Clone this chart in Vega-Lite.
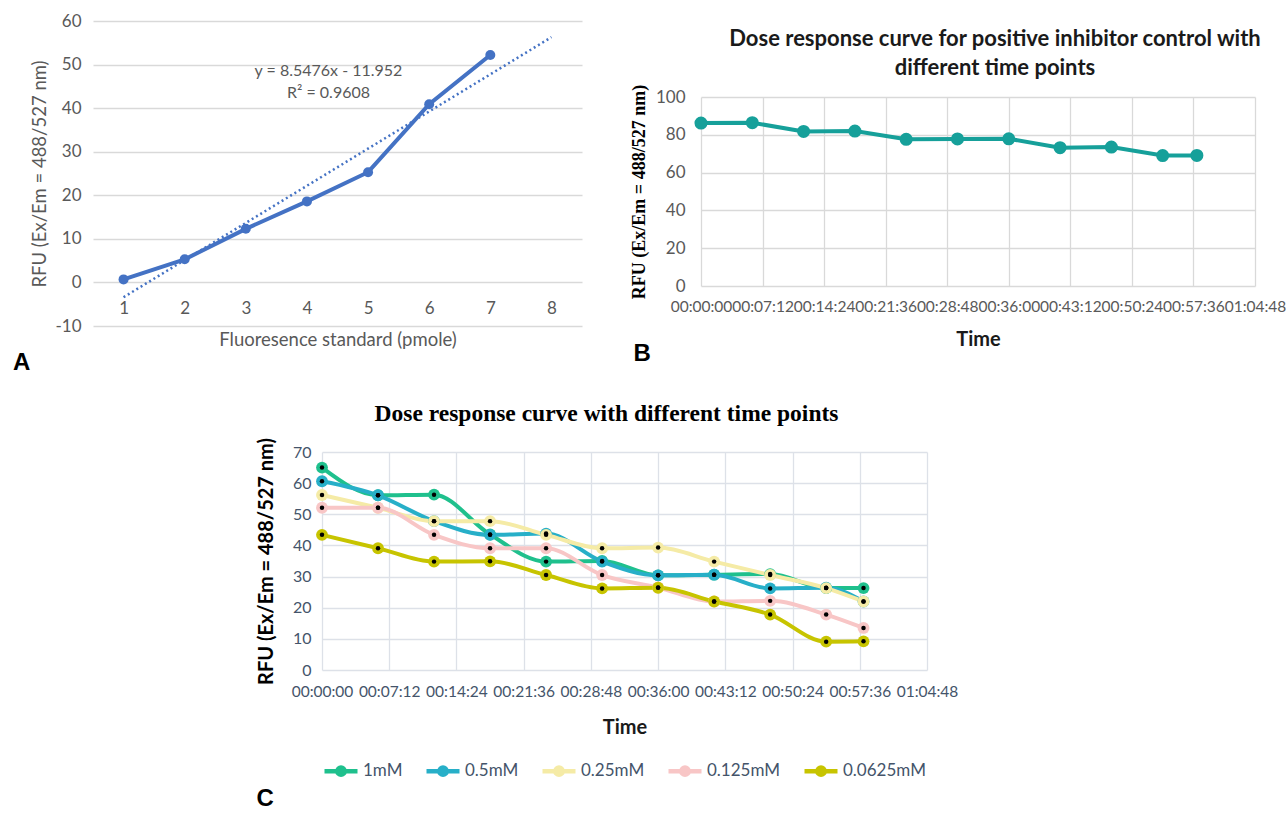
{
  "$schema": "https://vega.github.io/schema/vega-lite/v6.json",
  "padding": {"left": 12, "top": 12, "right": 0, "bottom": 0},
  "background": "white",
  "config": {
    "view": {"stroke": null},
    "font": "Lato",
    "axis": {"labelFont": "Lato", "titleFont": "Lato"}
  },
  "resolve": {"scale": {"color": "independent"}, "legend": {"color": "independent"}},
  "spacing": 27,
  "vconcat": [
    {
      "spacing": 48,
      "hconcat": [
        {
          "title": {"text": "A", "orient": "bottom", "anchor": "start", "font": "Liberation Sans", "fontSize": 24, "fontWeight": "bold", "color": "#000000", "dx": -18, "offset": 2},
          "vconcat": [
            {
              "width": 489,
              "height": 305,
              "title": {"text": ["y = 8.5476x - 11.952", "R² = 0.9608"], "orient": "top", "anchor": "middle", "frame": "group", "font": "Lato", "fontSize": 16, "fontWeight": "normal", "color": "#595959", "lineHeight": 22, "offset": -89, "dx": -9},
              "data": {"values": [
                {"pmole": 1, "rfu": 0.7},
                {"pmole": 2, "rfu": 5.3},
                {"pmole": 3, "rfu": 12.3},
                {"pmole": 4, "rfu": 18.6},
                {"pmole": 5, "rfu": 25.3},
                {"pmole": 6, "rfu": 40.9},
                {"pmole": 7, "rfu": 52.2}
              ]},
              "encoding": {
                "x": {"field": "pmole", "type": "quantitative",
                  "scale": {"domain": [0.5, 8.5], "nice": false, "zero": false},
                  "axis": {"values": [1, 2, 3, 4, 5, 6, 7, 8], "grid": false, "domain": false, "ticks": false, "tickSize": 0, "offset": -26, "labelPadding": 0, "labelFlush": false, "labelOverlap": false, "labelFontSize": 17, "labelColor": "#595959", "title": "Fluoresence standard (pmole)", "titleFontSize": 18.5, "titleFontWeight": "normal", "titleColor": "#595959", "titlePadding": 14}},
                "y": {"field": "rfu", "type": "quantitative",
                  "scale": {"domain": [-10, 60], "nice": false, "zero": false},
                  "axis": {"values": [-10, 0, 10, 20, 30, 40, 50, 60], "labelExpr": "'' + datum.value", "grid": true, "gridColor": "#D9D9D9", "gridWidth": 1.3, "domain": false, "ticks": false, "labelPadding": 12, "labelFontSize": 17, "labelColor": "#595959", "title": "RFU (Ex/Em = 488/527 nm)", "titleFontSize": 18.5, "titleFontWeight": "normal", "titleColor": "#595959", "titlePadding": 5}}
              },
              "layer": [
                {"transform": [{"regression": "rfu", "on": "pmole", "extent": [1, 8]}],
                 "mark": {"type": "line", "color": "#4472C4", "strokeWidth": 2.5, "strokeDash": [2, 3]}},
                {"mark": {"type": "line", "color": "#4472C4", "strokeWidth": 4}},
                {"mark": {"type": "point", "filled": true, "color": "#4472C4", "size": 100, "opacity": 1}}
              ]
            }
          ]
        },
        {
          "title": {"text": "B", "orient": "bottom", "anchor": "start", "font": "Liberation Sans", "fontSize": 24, "fontWeight": "bold", "color": "#000000", "dx": 3, "offset": -8},
          "spacing": 0,
          "vconcat": [
            {"width": 1, "height": 7, "data": {"values": []}, "mark": {"type": "point", "opacity": 0}},
            {
              "width": 554,
              "height": 189,
              "title": {"text": ["Dose response curve for positive inhibitor control with", "different time points"], "font": "Lato", "fontSize": 22, "fontWeight": "bold", "color": "#1a1a1a", "lineHeight": 29, "frame": "group", "dx": 17, "offset": 4},
              "data": {"values": [
                {"t": 0, "rfu": 86.2},
                {"t": 360, "rfu": 86.4},
                {"t": 720, "rfu": 81.8},
                {"t": 1080, "rfu": 82.0},
                {"t": 1440, "rfu": 77.6},
                {"t": 1800, "rfu": 77.8},
                {"t": 2160, "rfu": 77.9},
                {"t": 2520, "rfu": 73.2},
                {"t": 2880, "rfu": 73.5},
                {"t": 3240, "rfu": 69.0},
                {"t": 3480, "rfu": 69.1}
              ]},
              "encoding": {
                "x": {"field": "t", "type": "quantitative",
                  "scale": {"domain": [0, 3888], "nice": false, "zero": false},
                  "axis": {"values": [0, 432, 864, 1296, 1728, 2160, 2592, 3024, 3456, 3888], "labelExpr": "utcFormat(datum.value*1000, '%H:%M:%S')", "labelOverlap": false, "labelBound": false, "labelFlush": false, "grid": true, "gridColor": "#D9D9D9", "gridWidth": 1.3, "domain": false, "ticks": false, "labelPadding": 13, "labelFontSize": 15.5, "labelColor": "#595959", "title": "Time", "titleFontSize": 20, "titleFontWeight": "bold", "titleColor": "#1a1a1a", "titlePadding": 15}},
                "y": {"field": "rfu", "type": "quantitative",
                  "scale": {"domain": [0, 100], "nice": false},
                  "axis": {"values": [0, 20, 40, 60, 80, 100], "grid": true, "gridColor": "#D9D9D9", "gridWidth": 1.3, "domain": false, "ticks": false, "labelPadding": 16, "labelFontSize": 17, "labelColor": "#595959", "title": "RFU (Ex/Em = 488/527 nm)", "titleFont": "Liberation Serif", "titleFontSize": 18, "titleFontWeight": "bold", "titleColor": "#000000", "titlePadding": 7}}
              },
              "layer": [
                {"mark": {"type": "line", "color": "#16A09A", "strokeWidth": 4}},
                {"mark": {"type": "point", "filled": true, "color": "#16A09A", "size": 170, "opacity": 1}}
              ]
            }
          ]
        }
      ]
    },
    {
      "spacing": 0,
      "resolve": {"scale": {"color": "independent"}, "legend": {"color": "independent"}},
      "hconcat": [
        {"width": 163, "height": 1, "data": {"values": []}, "mark": {"type": "point", "opacity": 0}},
        {
          "title": {"text": "C", "orient": "bottom", "anchor": "start", "font": "Liberation Sans", "fontSize": 24, "fontWeight": "bold", "color": "#000000", "offset": 3},
          "resolve": {"scale": {"color": "independent"}, "legend": {"color": "independent"}},
          "vconcat": [
            {
              "width": 605,
              "height": 218,
              "title": {"text": "Dose response curve with different time points", "font": "Liberation Serif", "fontSize": 23.5, "fontWeight": "bold", "color": "#000000", "frame": "group", "dx": -18, "offset": 12},
              "data": {"values": [
                {"t": 0, "conc": "1mM", "rfu": 65.0},
                {"t": 360, "conc": "1mM", "rfu": 56.1},
                {"t": 720, "conc": "1mM", "rfu": 56.3},
                {"t": 1080, "conc": "1mM", "rfu": 43.5},
                {"t": 1440, "conc": "1mM", "rfu": 34.8},
                {"t": 1800, "conc": "1mM", "rfu": 35.0},
                {"t": 2160, "conc": "1mM", "rfu": 30.4},
                {"t": 2520, "conc": "1mM", "rfu": 30.6},
                {"t": 2880, "conc": "1mM", "rfu": 30.8},
                {"t": 3240, "conc": "1mM", "rfu": 26.3},
                {"t": 3480, "conc": "1mM", "rfu": 26.3},
                {"t": 0, "conc": "0.5mM", "rfu": 60.6},
                {"t": 360, "conc": "0.5mM", "rfu": 56.1},
                {"t": 720, "conc": "0.5mM", "rfu": 47.8},
                {"t": 1080, "conc": "0.5mM", "rfu": 43.4},
                {"t": 1440, "conc": "0.5mM", "rfu": 43.8},
                {"t": 1800, "conc": "0.5mM", "rfu": 34.8},
                {"t": 2160, "conc": "0.5mM", "rfu": 30.4},
                {"t": 2520, "conc": "0.5mM", "rfu": 30.6},
                {"t": 2880, "conc": "0.5mM", "rfu": 26.2},
                {"t": 3240, "conc": "0.5mM", "rfu": 26.4},
                {"t": 3480, "conc": "0.5mM", "rfu": 22.0},
                {"t": 0, "conc": "0.25mM", "rfu": 56.2},
                {"t": 360, "conc": "0.25mM", "rfu": 52.1},
                {"t": 720, "conc": "0.25mM", "rfu": 47.8},
                {"t": 1080, "conc": "0.25mM", "rfu": 47.8},
                {"t": 1440, "conc": "0.25mM", "rfu": 43.4},
                {"t": 1800, "conc": "0.25mM", "rfu": 39.1},
                {"t": 2160, "conc": "0.25mM", "rfu": 39.3},
                {"t": 2520, "conc": "0.25mM", "rfu": 34.8},
                {"t": 2880, "conc": "0.25mM", "rfu": 30.5},
                {"t": 3240, "conc": "0.25mM", "rfu": 26.3},
                {"t": 3480, "conc": "0.25mM", "rfu": 22.0},
                {"t": 0, "conc": "0.125mM", "rfu": 52.1},
                {"t": 360, "conc": "0.125mM", "rfu": 52.1},
                {"t": 720, "conc": "0.125mM", "rfu": 43.4},
                {"t": 1080, "conc": "0.125mM", "rfu": 39.1},
                {"t": 1440, "conc": "0.125mM", "rfu": 39.1},
                {"t": 1800, "conc": "0.125mM", "rfu": 30.5},
                {"t": 2160, "conc": "0.125mM", "rfu": 26.5},
                {"t": 2520, "conc": "0.125mM", "rfu": 22.0},
                {"t": 2880, "conc": "0.125mM", "rfu": 22.2},
                {"t": 3240, "conc": "0.125mM", "rfu": 17.8},
                {"t": 3480, "conc": "0.125mM", "rfu": 13.5},
                {"t": 0, "conc": "0.0625mM", "rfu": 43.4},
                {"t": 360, "conc": "0.0625mM", "rfu": 39.1},
                {"t": 720, "conc": "0.0625mM", "rfu": 34.8},
                {"t": 1080, "conc": "0.0625mM", "rfu": 34.9},
                {"t": 1440, "conc": "0.0625mM", "rfu": 30.5},
                {"t": 1800, "conc": "0.0625mM", "rfu": 26.2},
                {"t": 2160, "conc": "0.0625mM", "rfu": 26.4},
                {"t": 2520, "conc": "0.0625mM", "rfu": 22.0},
                {"t": 2880, "conc": "0.0625mM", "rfu": 17.8},
                {"t": 3240, "conc": "0.0625mM", "rfu": 9.1},
                {"t": 3480, "conc": "0.0625mM", "rfu": 9.2}
              ]},
              "encoding": {
                "x": {"field": "t", "type": "quantitative",
                  "scale": {"domain": [0, 3888], "nice": false, "zero": false},
                  "axis": {"values": [0, 432, 864, 1296, 1728, 2160, 2592, 3024, 3456, 3888], "labelExpr": "utcFormat(datum.value*1000, '%H:%M:%S')", "labelOverlap": false, "labelBound": false, "labelFlush": false, "grid": true, "gridColor": "#DDE1E8", "gridWidth": 1.3, "domain": false, "ticks": false, "labelPadding": 14, "labelFontSize": 15.5, "labelColor": "#44546A", "title": "Time", "titleFontSize": 20, "titleFontWeight": "bold", "titleColor": "#1a1a1a", "titlePadding": 18}},
                "y": {"field": "rfu", "type": "quantitative",
                  "scale": {"domain": [0, 70], "nice": false},
                  "axis": {"values": [0, 10, 20, 30, 40, 50, 60, 70], "grid": true, "gridColor": "#DDE1E8", "gridWidth": 1.3, "domain": false, "ticks": false, "labelPadding": 11, "labelFontSize": 16, "labelColor": "#44546A", "title": "RFU (Ex/Em = 488/527 nm)", "titleFontSize": 20, "titleFontWeight": "bold", "titleColor": "#000000", "titlePadding": 16}},
                "color": {"field": "conc", "type": "nominal",
                  "scale": {"domain": ["1mM", "0.5mM", "0.25mM", "0.125mM", "0.0625mM"], "range": ["#1FC08D", "#27AFC8", "#F5EBA6", "#F8C6C6", "#C7C400"]},
                  "legend": {"orient": "bottom", "direction": "horizontal", "title": null, "symbolType": "M-1,0H1M0.22,0A0.22,0.22 0 1,1 -0.22,0A0.22,0.22 0 1,1 0.22,0", "symbolSize": 1089, "symbolStrokeWidth": 4.5, "labelFont": "Lato", "labelFontSize": 17, "labelColor": "#44546A", "columnPadding": 14, "labelOffset": 3, "offset": 14}}
              },
              "layer": [
                {"mark": {"type": "line", "strokeWidth": 4, "interpolate": "monotone"}},
                {"mark": {"type": "point", "filled": true, "size": 140, "opacity": 1}},
                {"mark": {"type": "point", "filled": true, "size": 20, "opacity": 1},
                 "encoding": {"color": {"value": "#000000"}}}
              ]
            }
          ]
        }
      ]
    }
  ]
}
